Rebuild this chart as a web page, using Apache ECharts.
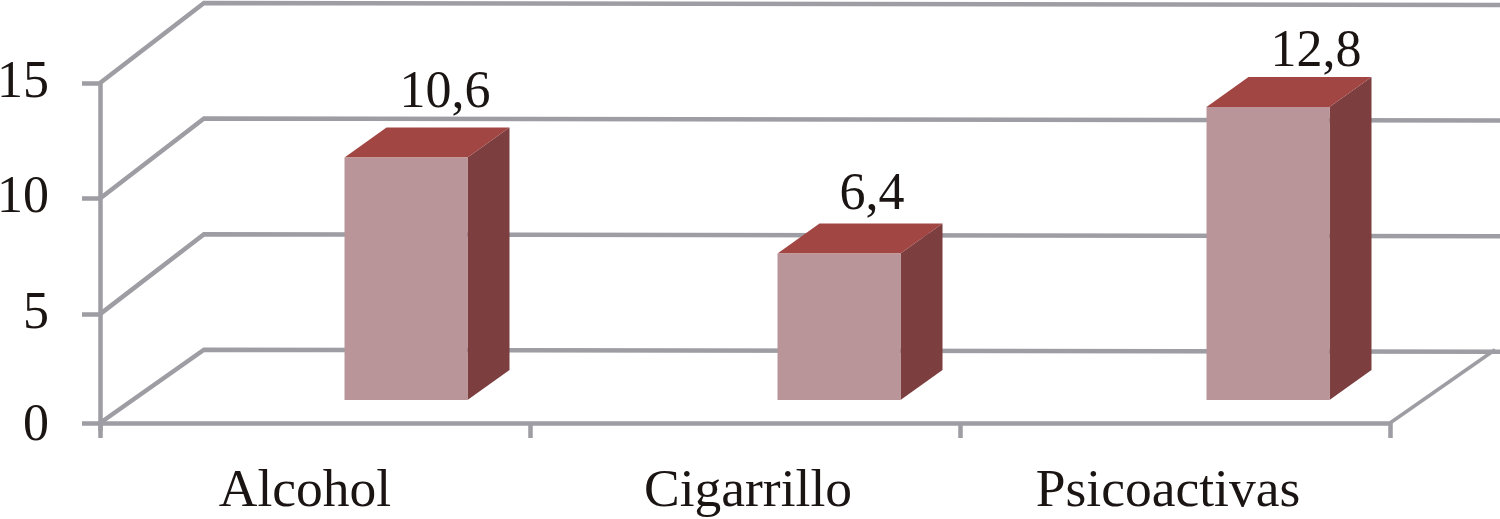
<!DOCTYPE html>
<html>
<head>
<meta charset="utf-8">
<title>Consumo</title>
<style>
  html, body { margin: 0; padding: 0; background: #fff; }
  #chart { width: 1500px; height: 519px; overflow: hidden; }
</style>
<script src="https://cdn.jsdelivr.net/npm/echarts@6/dist/echarts.min.js"></script>
</head>
<body>
<div id="chart"></div>
<script>
  // datos
  const categories = ['Alcohol', 'Cigarrillo', 'Psicoactivas'];
  const values = [10.6, 6.4, 12.8];
  const valueLabels = ['10,6', '6,4', '12,8'];
  const yTicks = [0, 5, 10, 15];

  // ajustes de la perspectiva (px)
  const wallDx = 104, wallDy = 80;
  const barDx = 42, barDy = 30, barW = 123, barLift = 29.7;
  const barShift = [29.5, 32.5, 31.5];
  const barScale = 0.99;    // las barras son un poco mas cortas que la escala del eje
  const floorRaise = 6.7;   // la linea del piso queda un poco arriba del 0 de la escala
  const catShift = [-10, 3, -7];
  const valueShiftX = [39, 33, 48];
  const valueShiftY = [-64, -58, -55];

  const lineColor = '#9d9da3';
  const textColor = '#1a1412';
  const font = 'Liberation Serif';

  const myChart = echarts.init(document.getElementById('chart'), null, { renderer: 'canvas' });

  const renderWall = (params, api) => {
    const cs = params.coordSys;
    const y = api.coord([0, api.value(1)])[1];
    const isFloor = api.value(1) === 0;
    const left = cs.x, right = cs.x + cs.width;
    const backY = y - wallDy;
    const children = [{
      type: 'polyline',
      shape: { points: [[left, isFloor ? y - floorRaise : y], [left + wallDx, backY], [1500, backY + 2]] },
      style: { stroke: lineColor, lineWidth: 4.5, fill: null }
    }];
    if (isFloor) {
      children.push({
        type: 'line',
        shape: { x1: right, y1: y - floorRaise, x2: right + 105, y2: backY },
        style: { stroke: lineColor, lineWidth: 3.5 }
      });
    }
    return { type: 'group', children };
  };

  const renderBar = (params, api) => {
    const i = params.dataIndex;
    const base = api.coord([i, 0]);
    const top = api.coord([i, api.value(1)]);
    const x0 = base[0] + barShift[i], x1 = x0 + barW;
    const yb = base[1] - barLift, yt = yb - (base[1] - top[1]) * barScale;
    return {
      type: 'group',
      children: [
        { type: 'polygon', shape: { points: [[x1, yt], [x1 + barDx, yt - barDy], [x1 + barDx, yb - barDy], [x1, yb]] }, style: { fill: '#7d3e40' } },
        { type: 'polygon', shape: { points: [[x0, yt], [x0 + barDx, yt - barDy], [x1 + barDx, yt - barDy], [x1, yt]] }, style: { fill: '#a24644' } },
        { type: 'rect', shape: { x: x0, y: yt, width: barW, height: yb - yt }, style: { fill: '#b99599' } },
        { type: 'text', style: { text: valueLabels[i], x: x0 + barW / 2 + valueShiftX[i], y: yt + valueShiftY[i], fill: textColor, font: '52px "' + font + '"', align: 'center', verticalAlign: 'middle' } },
        { type: 'text', style: { text: categories[i], x: base[0] + catShift[i], y: 492, fill: textColor, font: '53.5px "' + font + '"', align: 'center', verticalAlign: 'middle' } }
      ]
    };
  };

  const option = {
    animation: false,
    backgroundColor: '#fff',
    grid: { left: 100, right: 110, top: 83, bottom: 519 - 429.7, outerBoundsMode: 'none' },
    xAxis: {
      type: 'category',
      data: categories,
      offset: -floorRaise,
      axisLine: { onZero: false, lineStyle: { color: lineColor, width: 4.5 } },
      axisTick: { show: true, length: 15, lineStyle: { color: lineColor, width: 4.5 } },
      axisLabel: { show: false }
    },
    yAxis: {
      type: 'value',
      min: 0,
      max: 15,
      interval: 5,
      splitLine: { show: false },
      axisLine: { show: true, lineStyle: { color: lineColor, width: 4.5 } },
      axisTick: { show: true, length: 18, customValues: [0.29, 5, 10, 15], lineStyle: { color: lineColor, width: 4.5 } },
      axisLabel: {
        margin: 51,
        padding: [4, 0, 0, 0],
        color: textColor,
        fontFamily: font,
        fontSize: 52,
        customValues: [0.15, 5, 10, 15],
        formatter: (v) => String(Math.floor(v))
      }
    },
    series: [
      {
        type: 'custom',
        z: 1,
        silent: true,
        renderItem: renderWall,
        data: yTicks.map((t) => [0, t])
      },
      {
        type: 'custom',
        z: 3,
        silent: true,
        renderItem: renderBar,
        data: values.map((v, i) => [i, v])
      }
    ]
  };

  myChart.setOption(option);
</script>
</body>
</html>
